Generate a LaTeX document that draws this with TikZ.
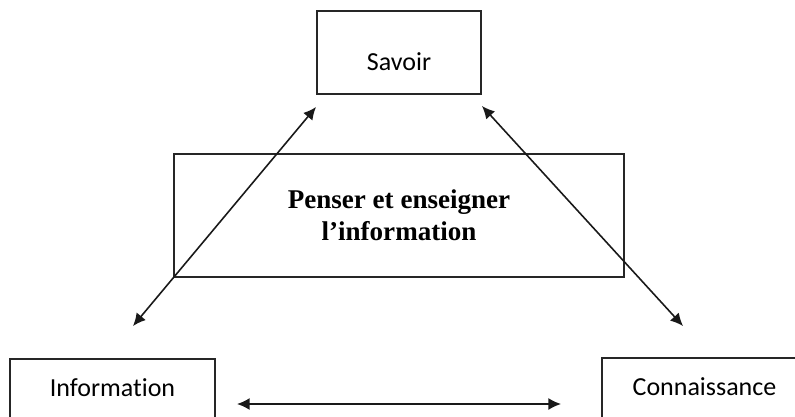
\documentclass[tikz,border=0pt]{standalone}
\usepackage{fontspec}
\setmainfont{Liberation Serif}
\newfontfamily\calibri[Ligatures=NoCommon]{Carlito}
\usetikzlibrary{arrows.meta,positioning}

\begin{document}
\begin{tikzpicture}[
		box/.style={draw=black!85, line width=0.55pt, rectangle, minimum width=2.05cm, minimum height=0.83cm, inner sep=0pt, font=\calibri\fontsize{7.4}{9}\selectfont},
		bigbox/.style={draw=black!85, line width=0.55pt, rectangle, minimum width=4.5cm, minimum height=1.23cm, inner sep=0pt, align=center, font=\bfseries\fontsize{7.7}{9.1}\selectfont},
		link/.style={black!90, line width=0.45pt, {Latex[length=3.6pt,width=3.4pt]}-{Latex[length=3.6pt,width=3.4pt]}}]
		\useasboundingbox (0,0) rectangle (7.95,-4.16);
		\clip (0,0) rectangle (7.95,-4.16);
		\node[box, minimum width=1.64cm, text height=10.5pt, text depth=0pt] (savoir) at (3.99,-0.525) {Savoir};
		\node[bigbox] (penser) at (3.99,-2.155) {Penser et enseigner\\l’information};
		\node[box, text height=5pt, text depth=7pt] (information) at (1.125,-4.005) {Information};
		\node[box, text height=5pt, text depth=7pt] (connaissance) at (7.045,-3.995) {Connaissance};
		\coordinate (savoirL) at ([yshift=-0.12cm]savoir.south west);
		\coordinate (savoirR) at ([yshift=-0.11cm]savoir.south east);
		\coordinate (informationT) at ([shift={(0.205,0.32)}]information.north);
		\coordinate (informationR) at ([shift={(0.21,-0.035)}]information.east);
		\coordinate (connaissanceT) at ([shift={(-0.215,0.31)}]connaissance.north);
		\coordinate (connaissanceL) at ([shift={(-0.40,-0.045)}]connaissance.west);
		\draw[link] (savoirL) -- (informationT);
		\draw[link] (savoirR) -- (connaissanceT);
		\draw[link] (informationR) -- (connaissanceL);
	\end{tikzpicture}
\end{document}
